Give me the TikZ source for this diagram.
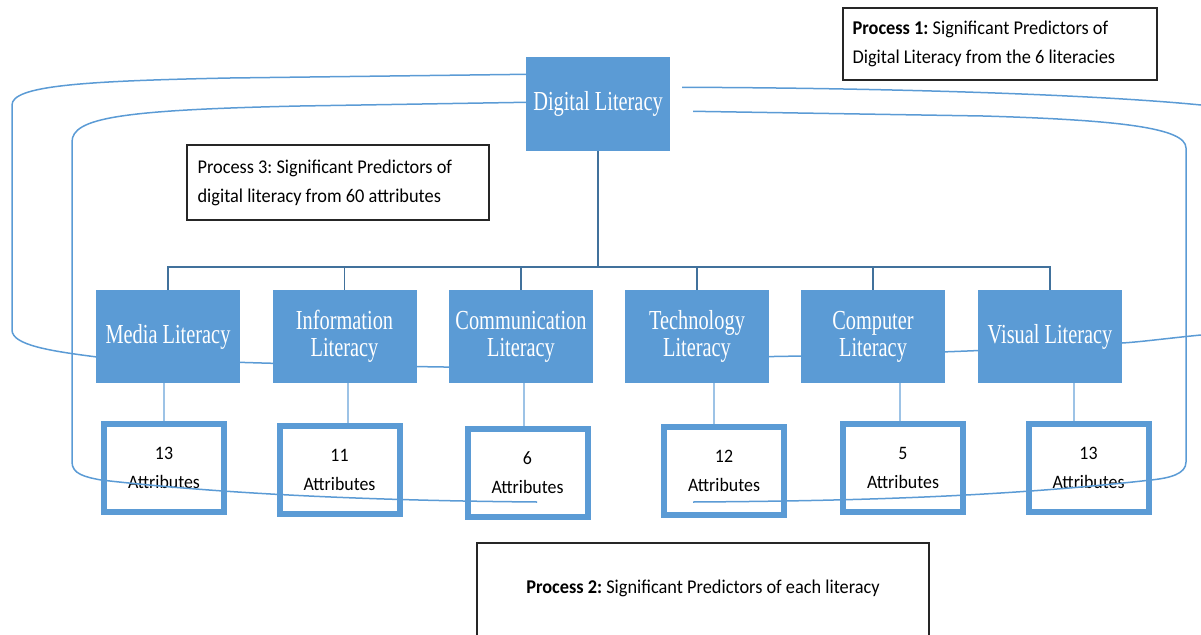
\documentclass[tikz,border=0pt]{standalone}
\usepackage{fontspec}
\setmainfont{Carlito}
\newfontfamily\titlefont[FakeStretch=0.74]{Liberation Serif}
\newfontfamily\procfont[FakeStretch=0.94]{Carlito}
\usetikzlibrary{positioning}
\definecolor{boxblue}{HTML}{5B9BD5}
\definecolor{trunkblue}{HTML}{41719C}
\definecolor{stemblue}{HTML}{9DC3E6}
\frenchspacing

\begin{document}
\begin{tikzpicture}[
  x=1pt, y=-1pt,
  lit/.style={rectangle, fill=boxblue, minimum width=144pt, minimum height=93pt,
              inner sep=2pt, align=center, text=white,
              font=\titlefont\fontsize{27.5}{27}\selectfont},
  attr/.style={rectangle, draw=boxblue, line width=6pt, fill=white, minimum width=120pt,
               minimum height=88pt, inner sep=2pt, align=center,
               font=\procfont\fontsize{19}{29}\selectfont},
  procbox/.style={rectangle, draw=black!85, line width=1.2pt},
  proctxt/.style={align=left, inner sep=2pt, font=\procfont\fontsize{19.5}{29}\selectfont},
  trunk/.style={draw=trunkblue, line width=1.6pt},
  stem/.style={draw=stemblue, line width=1.3pt},
  ring/.style={draw=boxblue, line width=1.5pt}
]
\useasboundingbox (0,0) rectangle (1201,634);
\clip (0,0) rectangle (1201,634);

% top box
\node[lit] (dl) at (598,104) {Digital Literacy};

% process 1 loop (behind the literacy row)
\coordinate (ring1l) at (560,368);
\coordinate (ring1r) at (740,357);
\draw[ring] ([yshift=-17pt]dl.north west) -- (230,78)
  .. controls (80,81) and (12,86) .. (12,105) -- (12,330)
  .. controls (12,345) and (50,351) .. (97,357)
  .. controls (250,364) and (450,368) .. (ring1l);
\draw[ring] ([xshift=12pt,yshift=-30pt]dl.north east)
  .. controls (900,88) and (1100,95) .. (1201,105)
  .. controls (1230,110) and (1240,120) .. (1240,140) -- (1240,315)
  .. controls (1240,328) and (1220,333) .. (1201,335)
  .. controls (1170,338) and (1140,342) .. (1122,343)
  .. controls (1050,348) and (900,355) .. (ring1r);

% literacy row
\node[lit] (media)  at (168,336.5)  {Media Literacy};
\node[lit] (info)   at (344.5,336.5) {Information\\Literacy};
\node[lit] (comm)   at (521,336.5)  {Communication\\Literacy};
\node[lit] (tech)   at (697,336.5)  {Technology\\Literacy};
\node[lit] (comp)   at (873,336.5)  {Computer\\Literacy};
\node[lit] (visual) at (1050,336.5) {Visual Literacy};

% attribute boxes
\node[attr] (media-a)  at (164,468)    {13\\Attributes};
\node[attr] (info-a)   at (339.5,470)  {11\\Attributes};
\node[attr] (comm-a)   at (527.5,473)  {6\\Attributes};
\node[attr] (tech-a)   at (724,470.5)  {12\\Attributes};
\node[attr] (comp-a)   at (903,468)    {5\\Attributes};
\node[attr] (visual-a) at (1088.5,468) {13\\Attributes};

% tree
\coordinate (bus) at (598,267);
\draw[trunk] (dl.south) -- (bus);
\foreach \n/\dx in {media/0,info/8.5,comm/-3.5,tech/-10,comp/-3,visual/-14.5} {
  \draw[trunk] (\n.north) |- (bus);
  \draw[stem] ([xshift=\dx pt]\n-a.north) coordinate (s) -- (s |- \n.south);
}

% process 3 loop (over the attribute boxes)
\coordinate (ring3l) at (537,502);
\coordinate (ring3r) at (693,502);
\draw[ring] ([yshift=-45pt]dl.north west) -- (300,106)
  .. controls (120,110) and (72,118) .. (72,142) -- (72,462)
  .. controls (72,474) and (85,477) .. (101,480)
  .. controls (250,497) and (420,501) .. (ring3l);
\draw[ring] ([xshift=23pt,yshift=-54pt]dl.north east) -- (983,116)
  .. controls (1120,120) and (1186,128) .. (1186,148) -- (1186,462)
  .. controls (1186,474) and (1170,478) .. (1151,480)
  .. controls (1000,497) and (850,501) .. (ring3r);

% process labels
\node[procbox, minimum width=314pt, minimum height=72pt] (proc1) at (1000,44) {};
\node[proctxt, anchor=west] (proc1txt) at ([xshift=8pt]proc1.west)
  {\textbf{Process 1:} Significant Predictors of\\Digital Literacy from the 6 literacies};
\node[procbox, minimum width=302pt, minimum height=75pt] (proc3) at (338,182.5) {};
\node[proctxt, anchor=west] (proc3txt) at ([xshift=9pt]proc3.west)
  {Process 3: Significant Predictors of\\digital literacy from 60 attributes};
\node[procbox, minimum width=452pt, minimum height=100pt] (proc2) at (703,593) {};
\node[proctxt] (proc2txt) at (703,588)
  {\textbf{Process 2:} Significant Predictors of each literacy};
\end{tikzpicture}
\end{document}
